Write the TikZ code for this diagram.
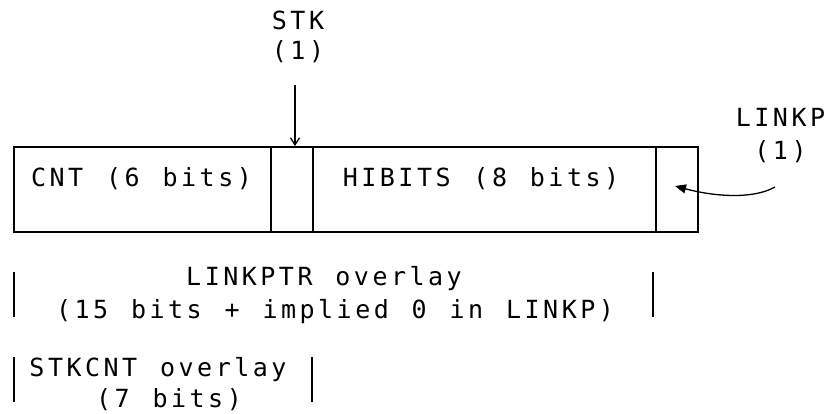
\documentclass[tikz,border=0pt]{standalone}
\usepackage{fontspec}
\setmonofont[LetterSpace=14, WordSpace=1.2326]{DejaVu Sans Mono}
\usetikzlibrary{arrows.meta}
\begin{document}
\begin{tikzpicture}[x=1pt,y=-1pt,
  cell/.style={draw, line width=1.7pt, minimum height=85pt, inner sep=0pt, anchor=north west},
  txt/.style={font=\ttfamily\fontsize{25}{30}\selectfont, inner sep=0pt, anchor=base},
  bar/.style={line width=1.7pt},
  conn/.style={line width=1.3pt}]
\fill[white] (0,0) rectangle (827,414);
\useasboundingbox (0,0) rectangle (827,414);
% fields
\node[cell, minimum width=257pt] (cnt) at (13,146) {};
\node[cell, minimum width=42pt] (stk) at (270,146) {};
\node[cell, minimum width=343pt] (hib) at (312,146) {};
\node[cell, minimum width=42pt] (lnk) at (655,146) {};
\node[txt] (cntt) at (141.5,187) {CNT (6 bits)};
\node[txt] (hibt) at (481,187) {HIBITS (8 bits)};
% STK label
\node[txt] (stkl) at (298,30) {STK};
\node[txt] (stkn) at (298,60) {(1)};
\coordinate (stktail) at (295,85);
\draw[conn, -{Straight Barb[length=7pt,width=9pt]}] (stktail) -- (stktail |- stk.north);
% LINKP label
\node[txt] (lnkl) at (780.5,127) {LINKP};
\node[txt] (lnkn) at (780.5,160) {(1)};
\coordinate (lptail) at (775,187);
\coordinate (lptip) at (675,186);
\draw[conn, -{Triangle[length=11pt,width=9pt]}] (lptail) .. controls (752,200) and (712,196) .. (lptip);
% LINKPTR overlay
\node[txt] (lp1) at (324,285) {LINKPTR overlay};
\node[txt] (lp2) at (335,318) {(15 bits + implied 0 in LINKP)};
\draw[bar] (14,272) -- (14,317);
\draw[bar] (653,272) -- (653,317);
% STKCNT overlay
\node[txt] (sc1) at (158,376) {STKCNT overlay};
\node[txt] (sc2) at (169,407) {(7 bits)};
\draw[bar] (14,357) -- (14,402);
\draw[bar] (312,357) -- (312,402);
\end{tikzpicture}
\end{document}
